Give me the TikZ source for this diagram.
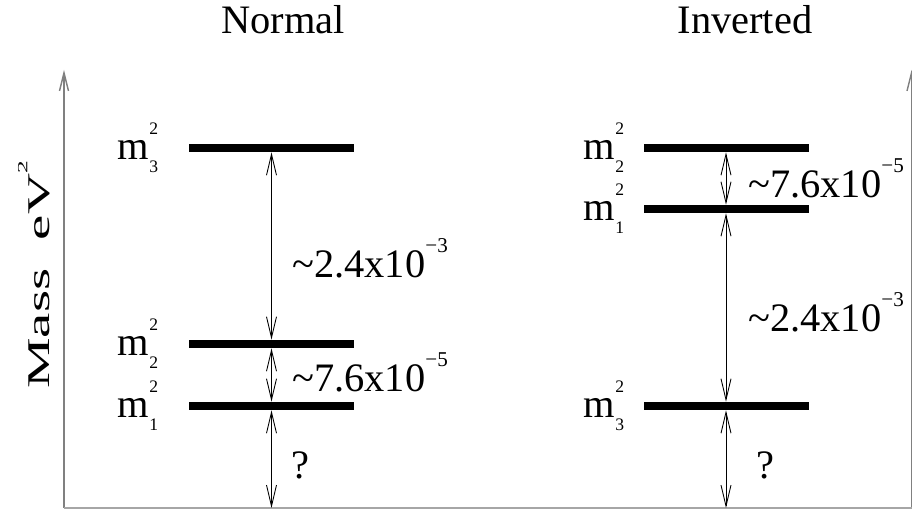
\documentclass[tikz,border=0pt]{standalone}
\usepackage{fontspec}
\setmainfont{Liberation Serif}
\usetikzlibrary{arrows.meta}

% small raised / lowered digits
\newcommand{\msq}[1]{m\makebox[0pt][l]{\raisebox{0.62em}{\fontsize{10}{10}\selectfont 2}}\raisebox{-0.32em}{\fontsize{10}{10}\selectfont #1}}
\newcommand{\pw}[1]{\raisebox{0.62em}{\fontsize{12}{12}\selectfont #1}}

\tikzset{
  level/.style={fill=black, minimum width=3.3cm, minimum height=0.16cm, inner sep=0pt},
  gap/.style={{Straight Barb[length=0.42cm,width=0.2cm]}-{Straight Barb[length=0.42cm,width=0.2cm]}, line width=0.5pt},
  axis/.style={gray, line width=0.8pt, -{Straight Barb[length=0.36cm,width=0.18cm]}},
  lbl/.style={font=\fontsize{23}{27}\selectfont, inner sep=0pt}
}

\begin{document}
\begin{tikzpicture}
    \useasboundingbox (0,0) rectangle (18.24,10.2);

    % axes
    \coordinate (origin) at (1.28,0.04);
    \coordinate (top) at (1.28,8.8);
    \coordinate (corner) at (18.23,0.04);
    \coordinate (cornertop) at (18.23,8.8);
    \draw[axis] (origin) -- (top);
    \draw[axis] (corner) -- (cornertop);
    \draw[gray!70, line width=0.8pt] (origin) -- (corner);
    \node[rotate=90, font=\fontsize{18}{22}\selectfont] (ylab) at (0.68,4.7) {\scalebox{1.8}[1]{Mass\hspace{0.5em}eV\raisebox{0.7em}{\fontsize{8}{8}\selectfont 2}}};

    % titles
    \node[lbl] (normal) at (5.66,9.8) {Normal};
    \node[lbl] (inverted) at (14.9,9.8) {Inverted};

    % normal ordering
    \node[level] (nm3) at (5.43,7.24) {};
    \node[level] (nm2) at (5.43,3.32) {};
    \node[level] (nm1) at (5.43,2.08) {};
    \node[lbl] (nm3l) at (2.76,7.24) {\msq{3}};
    \node[lbl] (nm2l) at (2.76,3.32) {\msq{2}};
    \node[lbl] (nm1l) at (2.76,2.08) {\msq{1}};
    \coordinate (nbase) at (nm1 |- origin);
    \draw[gap] (nm3.south) -- (nm2.north);
    \draw[gap] (nm2.south) -- (nm1.north);
    \draw[gap] (nm1.south) -- (nbase);
    \node[lbl, anchor=west] (natm) at (5.84,5.04) {\textasciitilde2.4x10\pw{−3}};
    \node[lbl, anchor=west] (nsol) at (5.84,2.76) {\textasciitilde7.6x10\pw{−5}};
    \node[lbl] (nq) at (6.0,0.9) {?};

    % inverted ordering
    \node[level] (im2) at (14.52,7.24) {};
    \node[level] (im1) at (14.52,6.02) {};
    \node[level] (im3) at (14.52,2.08) {};
    \node[lbl] (im2l) at (12.08,7.24) {\msq{2}};
    \node[lbl] (im1l) at (12.08,6.02) {\msq{1}};
    \node[lbl] (im3l) at (12.08,2.08) {\msq{3}};
    \coordinate (ibase) at (im3 |- origin);
    \draw[gap] (im2.south) -- (im1.north);
    \draw[gap] (im1.south) -- (im3.north);
    \draw[gap] (im3.south) -- (ibase);
    \node[lbl, anchor=west] (isol) at (14.96,6.64) {\textasciitilde7.6x10\pw{−5}};
    \node[lbl, anchor=west] (iatm) at (14.96,3.96) {\textasciitilde2.4x10\pw{−3}};
    \node[lbl] (iq) at (15.3,0.9) {?};
\end{tikzpicture}
\end{document}
